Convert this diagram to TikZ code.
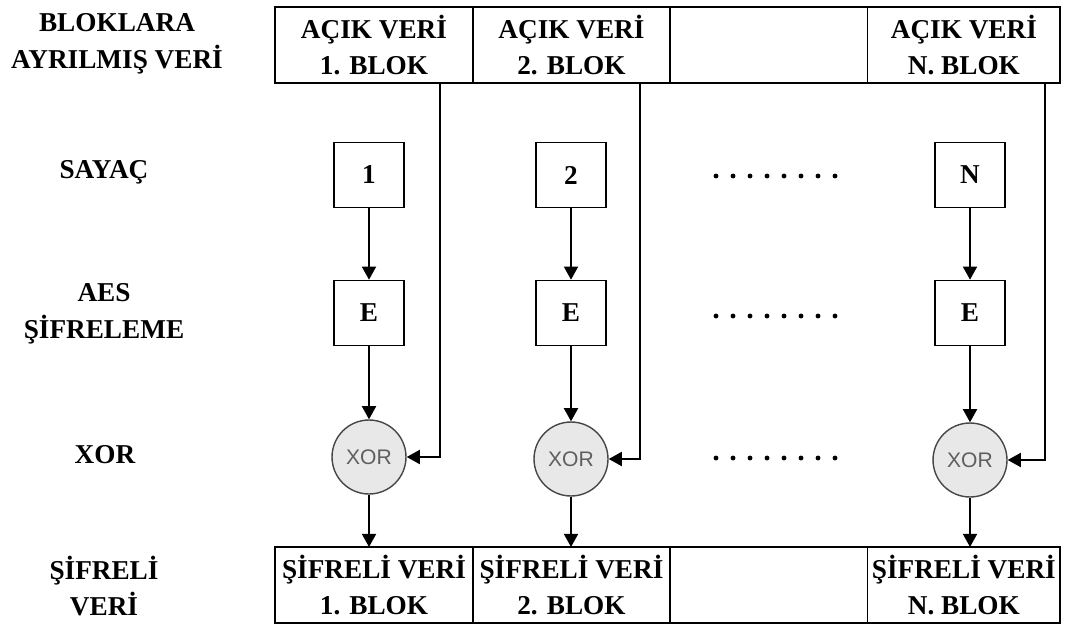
\documentclass[tikz,border=0pt]{standalone}
\usepackage{fontspec}
\setmainfont{Liberation Serif}
\newfontfamily\xorfont{Liberation Sans}
\usetikzlibrary{positioning, arrows.meta}
\definecolor{xorfill}{RGB}{232, 232, 232}
\definecolor{xordraw}{RGB}{70, 70, 70}
\definecolor{xortext}{RGB}{95, 95, 95}

\begin{document}
\begin{tikzpicture}[
    x=0.02cm, y=-0.02cm,
    font=\fontsize{15.5}{21}\selectfont\bfseries,
    block/.style={rectangle, draw, line width=0.9pt, minimum width=3.95cm, minimum height=1.52cm, align=center, outer sep=0pt, inner sep=1pt},
    ctrbox/.style={rectangle, draw, line width=0.9pt, minimum width=1.4cm, minimum height=1.3cm},
    xornode/.style={circle, draw=xordraw, line width=0.8pt, fill=xorfill, minimum size=1.48cm, inner sep=0pt, font=\xorfont\fontsize{12}{14}\selectfont, text=xortext},
    rowlabel/.style={align=center},
    arrow/.style={-{Triangle[length=7.5pt, width=8pt]}, line width=1.1pt},
]
\useasboundingbox (0,0) rectangle (1067,625);

% ============ satir etiketleri ============
\node[rowlabel] (lblblock) at (117,44) {BLOKLARA\\AYRILMIŞ VERİ};
\node[rowlabel] (lblctr) at (104,172) {SAYAÇ};
\node[rowlabel] (lblaes) at (104,314) {AES\\ŞİFRELEME};
\node[rowlabel] (lblxor) at (105,455) {XOR};
\node[rowlabel] (lblenc) at (104,586) {ŞİFRELİ\\VERİ};

% ============ acik veri bloklari ============
\node[block] (top1) at (374,45) {AÇIK VERİ\\1. BLOK};
\node[block, right=0pt of top1] (top2) {AÇIK VERİ\\2. BLOK};
\node[block, right=0pt of top2] (top3) {};
\node[block, right=0pt of top3, minimum width=3.85cm] (top4) {AÇIK VERİ\\N. BLOK};

% ============ sayac / E / XOR ============
\node[ctrbox] (ctr1) at (369,175) {1};
\node[ctrbox] (ctr2) at (571,175) {2};
\node[ctrbox] (ctr3) at (970,175) {N};

\node[ctrbox] (enc1) at (369,313) {E};
\node[ctrbox] (enc2) at (571,313) {E};
\node[ctrbox] (enc3) at (970,313) {E};

\node[xornode] (xor1) at (369,457) {XOR};
\node[xornode] (xor2) at (571,459) {XOR};
\node[xornode] (xor3) at (970,460) {XOR};

% ============ sifreli veri bloklari ============
\node[block] (bot1) at (374,585) {ŞİFRELİ VERİ\\1. BLOK};
\node[block, right=0pt of bot1] (bot2) {ŞİFRELİ VERİ\\2. BLOK};
\node[block, right=0pt of bot2] (bot3) {};
\node[block, right=0pt of bot3, minimum width=3.85cm] (bot4) {ŞİFRELİ VERİ\\N. BLOK};

% ============ noktalar ============
\foreach \y in {176,316,458}
    \foreach \i in {0,...,7}
        \fill (716+17*\i,\y) circle (1.4pt);

% ============ oklar ============
\coordinate (feed1) at (440,0);
\coordinate (feed2) at (640,0);
\coordinate (feed3) at (1045,0);

\draw[arrow] (ctr1) -- (enc1);
\draw[arrow] (ctr2) -- (enc2);
\draw[arrow] (ctr3) -- (enc3);

\draw[arrow] (enc1) -- (xor1);
\draw[arrow] (enc2) -- (xor2);
\draw[arrow] (enc3) -- (xor3);

\draw[arrow] (top1.south -| feed1) |- (xor1);
\draw[arrow] (top2.south -| feed2) |- (xor2);
\draw[arrow] (top4.south -| feed3) |- (xor3);

\draw[arrow] (xor1) -- (xor1 |- bot1.north);
\draw[arrow] (xor2) -- (xor2 |- bot2.north);
\draw[arrow] (xor3) -- (xor3 |- bot4.north);

\end{tikzpicture}
\end{document}
